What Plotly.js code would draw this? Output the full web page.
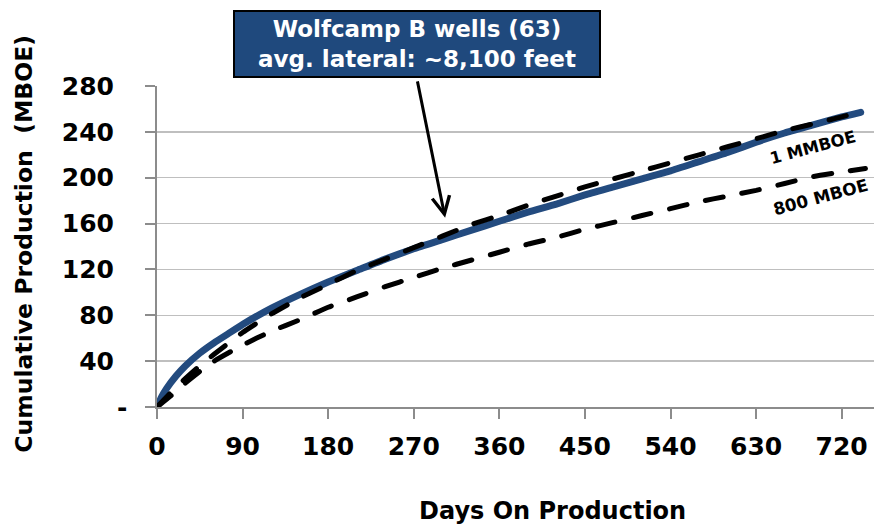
<!DOCTYPE html>
<html>
<head>
<meta charset="utf-8">
<script src="https://cdn.plot.ly/plotly-3.0.1.min.js"></script>
<style>
  html, body { margin: 0; padding: 0; background: #ffffff; }
  #chart { width: 875px; height: 529px; }
  /* rounded ends on curve strokes */
  #chart .scatterlayer .js-line { stroke-linecap: round; stroke-linejoin: round; }
</style>
</head>
<body>
<div id="chart"></div>
<script>
// Cumulative production (MBOE) versus days on production

// Wolfcamp B average well
const daysWolfcamp = [0, 5, 10, 20, 30, 45, 60, 75, 90, 120, 150, 180, 210, 240, 270, 300, 330,
                      360, 390, 420, 450, 480, 510, 540, 570, 600, 630, 660, 690, 720, 740];
const wolfcampB = [0, 9, 16, 27, 36, 47, 56, 64, 72, 86, 98, 109, 119, 129, 138, 146, 154,
                   162, 170, 177, 185, 192, 199, 206, 214, 222, 231, 239, 246, 253, 257];

// 1 MMBOE type curve
const days1MM = [0, 15, 30, 45, 60, 90, 120, 150, 180, 210, 240, 270, 300, 330, 360,
                 390, 420, 450, 480, 510, 540, 570, 600, 630, 660, 690, 720, 740];
const typeCurve1MM = [0, 13, 25, 36, 46, 65, 81, 95, 107, 119, 129, 139, 149, 159, 167,
                      176, 184, 192, 199, 206, 213, 220, 227, 234, 241, 247, 253, 258];

// 800 MBOE type curve
const days800 = [0, 15, 30, 45, 60, 90, 120, 150, 180, 210, 240, 270, 300, 330, 360,
                 390, 420, 450, 480, 510, 540, 570, 600, 630, 660, 690, 720, 745];
const typeCurve800 = [0, 10, 21, 31, 40, 54, 66, 76, 87, 96, 105, 113, 121, 128, 135,
                      142, 148, 155, 161, 167, 173, 179, 184, 189, 195, 201, 205, 208];

const xTicks = [0, 90, 180, 270, 360, 450, 540, 630, 720];
const yTicks = [0, 40, 80, 120, 160, 200, 240, 280];
const yTickText = ['', '40', '80', '120', '160', '200', '240', '280'];

const FONT = 'DejaVu Sans, Verdana, sans-serif';
const BLUE = '#234b7f';
const DASH = '18px,19px';

const traces = [
  {
    x: daysWolfcamp, y: wolfcampB, mode: 'lines', name: 'Wolfcamp B',
    line: { color: BLUE, width: 7, shape: 'spline', smoothing: 0.5 },
    hoverinfo: 'skip'
  },
  {
    x: days1MM, y: typeCurve1MM, mode: 'lines', name: '1 MMBOE',
    line: { color: '#000000', width: 5, dash: DASH, shape: 'spline', smoothing: 0.5 },
    hoverinfo: 'skip'
  },
  {
    x: days800, y: typeCurve800, mode: 'lines', name: '800 MBOE',
    line: { color: '#000000', width: 5, dash: DASH, shape: 'spline', smoothing: 0.5 },
    hoverinfo: 'skip'
  }
];

const layout = {
  width: 875, height: 529,
  margin: { l: 157, r: 1, t: 86, b: 122 },
  paper_bgcolor: '#ffffff', plot_bgcolor: '#ffffff',
  showlegend: false,
  font: { family: FONT, color: '#000000' },
  xaxis: {
    range: [0, 754], tickvals: xTicks, ticktext: xTicks.map(String),
    showgrid: false, zeroline: false,
    showline: true, linecolor: '#8c8c8c', linewidth: 2,
    ticks: 'outside', ticklen: 10, tickwidth: 2, tickcolor: '#8c8c8c',
    ticklabelstandoff: 6,
    tickfont: { family: FONT, size: 25, color: '#000000', weight: 'bold' }
  },
  yaxis: {
    range: [0, 280], tickvals: yTicks, ticktext: yTickText,
    showgrid: true, gridcolor: '#bfbfbf', gridwidth: 1.5, zeroline: false,
    showline: true, linecolor: '#8c8c8c', linewidth: 2,
    ticks: 'outside', ticklen: 10, tickwidth: 2, tickcolor: '#8c8c8c',
    ticklabelstandoff: 26,
    tickfont: { family: FONT, size: 25, color: '#000000', weight: 'bold' }
  },
  annotations: [
    // zero label
    { xref: 'paper', yref: 'y', x: -0.049, y: 0, text: '-', showarrow: false,
      xanchor: 'center', yanchor: 'middle',
      font: { family: FONT, size: 25, weight: 'bold', color: '#000000' } },
    // axis titles
    { xref: 'paper', yref: 'paper', x: 0.552, y: -0.324, text: 'Days On Production',
      showarrow: false, xanchor: 'center', yanchor: 'middle',
      font: { family: FONT, size: 24, weight: 'bold', color: '#000000' } },
    { xref: 'paper', yref: 'paper', x: -0.185, y: 0.51, text: 'Cumulative Production  (MBOE)',
      showarrow: false, textangle: -90, xanchor: 'center', yanchor: 'middle',
      font: { family: FONT, size: 23.5, weight: 'bold', color: '#000000' } },
    // curve labels
    { xref: 'x', yref: 'y', x: 690, y: 226, text: '1 MMBOE', showarrow: false,
      textangle: -15, xanchor: 'center', yanchor: 'middle',
      font: { family: FONT, size: 16.5, weight: 'bold', color: '#000000' } },
    { xref: 'x', yref: 'y', x: 698, y: 183, text: '800 MBOE', showarrow: false,
      textangle: -15, xanchor: 'center', yanchor: 'middle',
      font: { family: FONT, size: 17, weight: 'bold', color: '#000000' } },
    // pointer arrow
    { xref: 'x', yref: 'y', x: 303, y: 165, text: '', showarrow: true,
      ax: -28, ay: -138, arrowhead: 5, arrowsize: 1.15, arrowwidth: 3,
      arrowcolor: '#000000', standoff: 0, startstandoff: 0 },
    // callout box
    { xref: 'paper', yref: 'paper', x: (416.5 - 157) / 717, y: (407 - 44) / 321,
      text: 'Wolfcamp B wells (63)<br>avg. lateral: ~8,100 feet', showarrow: false,
      xanchor: 'center', yanchor: 'middle', width: 362, height: 62,
      bgcolor: '#1f497d', bordercolor: '#000000', borderwidth: 2, borderpad: 1,
      font: { family: FONT, size: 23, weight: 'bold', color: '#ffffff' } }
  ]
};

Plotly.newPlot('chart', traces, layout, { staticPlot: true, displayModeBar: false });
</script>
</body>
</html>
